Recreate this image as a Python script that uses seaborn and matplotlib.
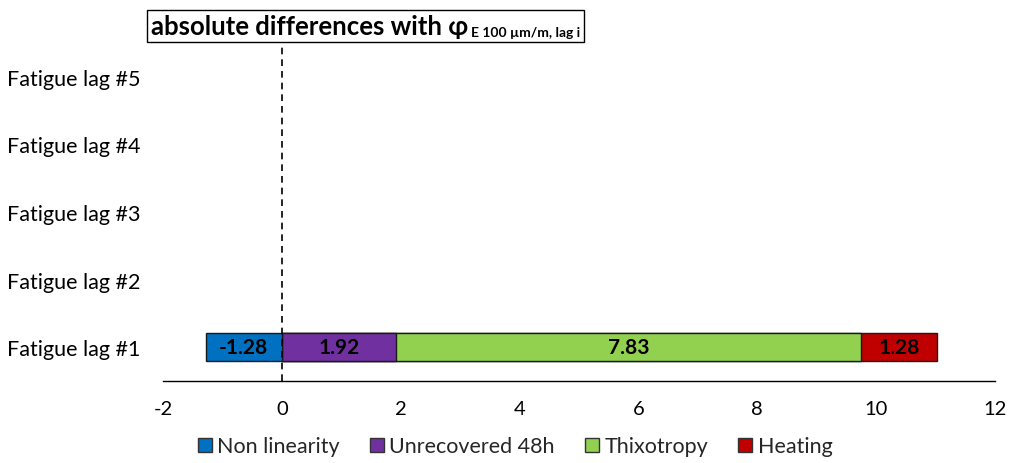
import numpy as np
import pandas as pd
import matplotlib
matplotlib.use("Agg")
import matplotlib.pyplot as plt
import seaborn as sns
from matplotlib.patches import Patch
from matplotlib.offsetbox import TextArea, HPacker, AnchoredOffsetbox

# ---- data ----
categories = ["Fatigue lag #5", "Fatigue lag #4", "Fatigue lag #3", "Fatigue lag #2", "Fatigue lag #1"]
non_linearity = [np.nan, np.nan, np.nan, np.nan, -1.28]
unrecovered_48h = [np.nan, np.nan, np.nan, np.nan, 1.92]
thixotropy = [np.nan, np.nan, np.nan, np.nan, 7.83]
heating = [np.nan, np.nan, np.nan, np.nan, 1.28]
series_names = ["Non linearity", "Unrecovered 48h", "Thixotropy", "Heating"]
series_colors = ["#0070C0", "#7030A0", "#92D050", "#C00000"]
x_ticks = [-2, 0, 2, 4, 6, 8, 10, 12]

sns.set_style("white")
plt.rcParams["font.family"] = ["Lato", "DejaVu Sans"]

df = pd.DataFrame({
    "cat": categories,
    "nl": non_linearity,
    "un": unrecovered_48h,
    "th": thixotropy,
    "he": heating,
})
df["cum_un"] = df["un"]
df["cum_th"] = df["un"] + df["th"]
df["cum_he"] = df["un"] + df["th"] + df["he"]

fig = plt.figure(figsize=(10.14, 4.64), dpi=100)
ax = fig.add_axes([163 / 1014, 1 - 382 / 464, (995 - 163) / 1014, (382 - 44) / 464])

bar_kw = dict(orient="h", order=categories, width=0.42, edgecolor="#1a1a1a",
              linewidth=1.0, ax=ax, errorbar=None)
# draw cumulative layers from largest to smallest (stacked look)
sns.barplot(data=df, y="cat", x="cum_he", color=series_colors[3], saturation=1, **bar_kw)
sns.barplot(data=df, y="cat", x="cum_th", color=series_colors[2], saturation=1, **bar_kw)
sns.barplot(data=df, y="cat", x="cum_un", color=series_colors[1], saturation=1, **bar_kw)
sns.barplot(data=df, y="cat", x="nl", color=series_colors[0], saturation=1, **bar_kw)

# segment labels
for i, row in df.iterrows():
    if np.isnan(row["nl"]):
        continue
    segs = [(0, row["nl"]), (0, row["un"]), (row["cum_un"], row["th"]), (row["cum_th"], row["he"])]
    for start, val in segs:
        ax.text(start + val / 2, i, f"{val:.2f}", ha="center", va="center",
                fontsize=15, fontweight="bold", color="black")

ax.axvline(0, color="black", linestyle=(0, (4, 3)), linewidth=1.2, zorder=5)

ax.set_xlim(-2, 12)
ax.set_ylim(4.5, -0.5)
ax.set_xticks(x_ticks)
ax.set_xticklabels([str(t) for t in x_ticks])
ax.set_xlabel("")
ax.set_ylabel("")
for s in ["top", "right", "left"]:
    ax.spines[s].set_visible(False)
ax.spines["bottom"].set_color("black")
ax.spines["bottom"].set_linewidth(1.0)
ax.tick_params(axis="x", length=0, pad=14, labelsize=14.5, colors="black")
ax.tick_params(axis="y", length=0, pad=16.5, labelsize=15.5, colors="black")

# legend
handles = [Patch(facecolor=c, edgecolor="#333333", linewidth=1.0) for c in series_colors]
fig.legend(handles, series_names, loc="center", bbox_to_anchor=(0.508, 0.036),
           ncol=4, frameon=False, fontsize=15.5, handlelength=0.65, handleheight=0.65,
           handletextpad=0.25, columnspacing=1.4)

# title box
t1 = TextArea("absolute differences with φ",
              textprops=dict(size=18.5, weight="bold", family=["Lato", "DejaVu Sans"], color="black"))
t2 = TextArea("E 100 µm/m, lag i",
              textprops=dict(size=10, weight="bold", family=["Lato", "DejaVu Sans"], color="black"))
box = HPacker(children=[t1, t2], align="bottom", pad=0, sep=2)
anch = AnchoredOffsetbox(loc="lower left", child=box, pad=0.3, borderpad=0, frameon=True,
                         bbox_to_anchor=(147 / 1014, 1 - 43 / 464),
                         bbox_transform=fig.transFigure)
anch.patch.set_edgecolor("black")
anch.patch.set_linewidth(1.0)
fig.add_artist(anch)

fig.savefig("out.png", dpi=100)
